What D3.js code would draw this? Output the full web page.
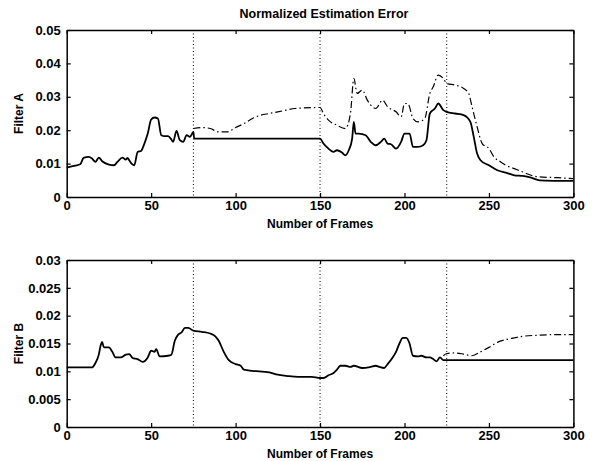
<!DOCTYPE html>
<html>
<head>
<meta charset="utf-8">
<script src="https://cdn.jsdelivr.net/npm/d3@7"></script>
<style>
  body { margin: 0; background: #fff; }
  svg { display: block; }
  text { font-family: "Liberation Sans", Arial, sans-serif; fill: #000; }
</style>
</head>
<body>
<div id="chart"></div>
<script>
// Filter A, solid: [frame, error]
const filterASolid = [
  [0,0.0088],[5,0.0094],[8,0.0098],[10,0.0117],[13,0.012],[15,0.0115],[17,0.0105],[19,0.0118],
  [21,0.0107],[25,0.0097],[28,0.0095],[30,0.0105],[33,0.0118],[35,0.0112],[36,0.0117],[37,0.011],
  [39,0.0097],[40,0.0095],[42,0.0135],[44,0.0138],[46,0.016],[48,0.019],[50,0.0232],[52,0.0238],
  [54,0.0235],[56,0.0185],[58,0.0182],[60,0.0182],[62,0.0172],[63,0.0165],[65,0.0198],[67,0.017],
  [69,0.0165],[71,0.0185],[73,0.018],[75,0.0195],[75.5,0.0175],[150,0.0175],[152,0.016],[155,0.0145],
  [158,0.0135],[160,0.014],[163,0.0133],[165,0.0125],[167,0.014],[169,0.0175],[170,0.0225],[171,0.019],
  [173,0.019],[177,0.0185],[180,0.0165],[183,0.0155],[186,0.0165],[188,0.0175],[190,0.016],[192,0.0158],
  [195,0.0145],[198,0.0165],[200,0.019],[203,0.019],[205,0.015],[208,0.015],[211,0.0155],[213,0.017],
  [215,0.025],[218,0.0265],[220,0.028],[223,0.026],[225,0.0255],[230,0.025],[235,0.0245],[239,0.0225],
  [241,0.018],[243,0.013],[245,0.011],[250,0.0095],[255,0.008],[260,0.0073],[265,0.0065],[270,0.0063],
  [275,0.0058],[280,0.005],[300,0.0048]
];
// Filter A, dash-dot (where it leaves the solid curve)
const filterADash = [
  [75,0.0205],[80,0.0208],[85,0.0205],[90,0.0195],[95,0.0195],[100,0.0208],[105,0.022],[110,0.0235],
  [115,0.0245],[120,0.025],[125,0.0255],[130,0.026],[135,0.0265],[150,0.0268],[152,0.025],[155,0.023],
  [160,0.0215],[165,0.0205],[168,0.025],[170,0.0355],[172,0.031],[175,0.032],[178,0.029],[180,0.0275],
  [183,0.0265],[187,0.029],[190,0.027],[195,0.0255],[198,0.024],[200,0.028],[202,0.028],[205,0.0235],
  [208,0.0225],[212,0.0235],[215,0.031],[217,0.033],[220,0.0365],[223,0.0355],[225,0.034],[230,0.0335],
  [235,0.0325],[238,0.031],[240,0.027],[243,0.021],[246,0.016],[250,0.0145],[253,0.012],[257,0.0105],
  [260,0.0095],[265,0.0085],[270,0.0075],[275,0.0065],[280,0.006],[290,0.0058],[300,0.0055]
];
// Filter B, solid
const filterBSolid = [
  [0,0.0107],[15,0.0107],[17,0.0115],[19,0.013],[20,0.0145],[21,0.0153],[22,0.0143],[25,0.0143],
  [27,0.0135],[29,0.0125],[32,0.0125],[35,0.013],[37,0.0131],[39,0.0124],[42,0.0122],[45,0.0117],
  [48,0.0125],[50,0.0137],[52,0.0135],[53,0.014],[55,0.0127],[60,0.0128],[62,0.013],[64,0.0155],
  [66,0.0166],[68,0.017],[70,0.0178],[72,0.0178],[75,0.0173],[80,0.0171],[85,0.0168],[88,0.0163],
  [90,0.0155],[93,0.0135],[96,0.012],[100,0.0113],[103,0.011],[105,0.0103],[110,0.0101],[120,0.0098],
  [125,0.0094],[130,0.0092],[137,0.009],[145,0.009],[150,0.0088],[152,0.0088],[155,0.0093],[158,0.0097],
  [160,0.0103],[162,0.011],[165,0.011],[168,0.0108],[170,0.011],[175,0.0106],[180,0.0108],[183,0.011],
  [185,0.0108],[188,0.0106],[190,0.0113],[193,0.0125],[195,0.0135],[197,0.015],[199,0.016],[201,0.016],
  [203,0.015],[205,0.0128],[208,0.0127],[210,0.0128],[213,0.0125],[215,0.0125],[217,0.0122],[219,0.0118],
  [221,0.0125],[223,0.012],[225,0.012],[300,0.012]
];
// Filter B, dash-dot
const filterBDash = [
  [223,0.0128],[225,0.0132],[230,0.0133],[235,0.0131],[240,0.0128],[245,0.0135],[250,0.0143],[255,0.0152],
  [260,0.0157],[265,0.016],[270,0.0163],[280,0.0165],[290,0.0166],[300,0.0166]
];
const markers = [75, 150, 225];
const xTicks = [0, 50, 100, 150, 200, 250, 300];
const yTicksA = [0, 0.01, 0.02, 0.03, 0.04, 0.05];
const yTicksB = [0, 0.005, 0.01, 0.015, 0.02, 0.025, 0.03];

const width = 595, height = 461;
const svg = d3.select("#chart").append("svg")
  .attr("width", width).attr("height", height);

const x = d3.scaleLinear().domain([0, 300]).range([66.7, 573.4]);

function panel(top, bottom, yMax, yTicks, label, solid, dash) {
  const y = d3.scaleLinear().domain([0, yMax]).range([bottom, top]);
  const g = svg.append("g");
  const line = d3.line().curve(d3.curveMonotoneX).x(d => x(d[0])).y(d => y(d[1]));

  // frame markers
  g.selectAll("line.mark").data(markers).join("line")
    .attr("x1", d => x(d)).attr("x2", d => x(d))
    .attr("y1", top).attr("y2", bottom)
    .attr("stroke", "#000").attr("stroke-width", 1)
    .attr("stroke-dasharray", "1,2.5");

  g.append("path").attr("d", line(dash))
    .attr("fill", "none").attr("stroke", "#000").attr("stroke-width", 1.2)
    .attr("stroke-dasharray", "7,3,1.5,3");
  g.append("path").attr("d", line(solid))
    .attr("fill", "none").attr("stroke", "#000").attr("stroke-width", 1.8)
    .attr("stroke-linejoin", "round");

  // axes with inward ticks, boxed
  const fmt = d => d === 0 ? "0" : String(+d.toFixed(3));
  g.append("g").attr("transform", `translate(0,${bottom})`)
    .call(d3.axisBottom(x).tickValues(xTicks).tickSize(-4).tickPadding(4).tickSizeOuter(0));
  g.append("g").attr("transform", `translate(0,${top})`)
    .call(d3.axisTop(x).tickValues(xTicks).tickSize(-4).tickFormat("").tickSizeOuter(0));
  g.append("g").attr("transform", `translate(${x(0)},0)`)
    .call(d3.axisLeft(y).tickValues(yTicks).tickSize(-4).tickPadding(6).tickFormat(fmt).tickSizeOuter(0));
  g.append("g").attr("transform", `translate(${x(300)},0)`)
    .call(d3.axisRight(y).tickValues(yTicks).tickSize(-4).tickFormat("").tickSizeOuter(0));
  g.selectAll(".domain").attr("stroke", "#000").attr("stroke-width", 1.5);
  g.selectAll(".tick line").attr("stroke", "#000").attr("stroke-width", 1.2);
  g.selectAll(".tick text")
    .style("font-family", "'Liberation Sans', Arial, sans-serif")
    .style("font-size", "13px").style("font-weight", "bold").attr("fill", "#000");

  g.append("text")
    .attr("transform", `translate(19,${(top + bottom) / 2}) rotate(-90)`)
    .attr("text-anchor", "middle").attr("dy", "0.35em")
    .style("font-size", "12px").style("font-weight", "bold")
    .text(label);
  g.append("text")
    .attr("x", x(150)).attr("y", bottom + 31)
    .attr("text-anchor", "middle")
    .style("font-size", "12px").style("font-weight", "bold")
    .text("Number of Frames");
}

panel(30, 197, 0.05, yTicksA, "Filter A", filterASolid, filterADash);
panel(260, 427, 0.03, yTicksB, "Filter B", filterBSolid, filterBDash);

svg.append("text")
  .attr("x", 324).attr("y", 18)
  .attr("text-anchor", "middle")
  .style("font-size", "12.5px").style("font-weight", "bold")
  .text("Normalized Estimation Error");
</script>
</body>
</html>
